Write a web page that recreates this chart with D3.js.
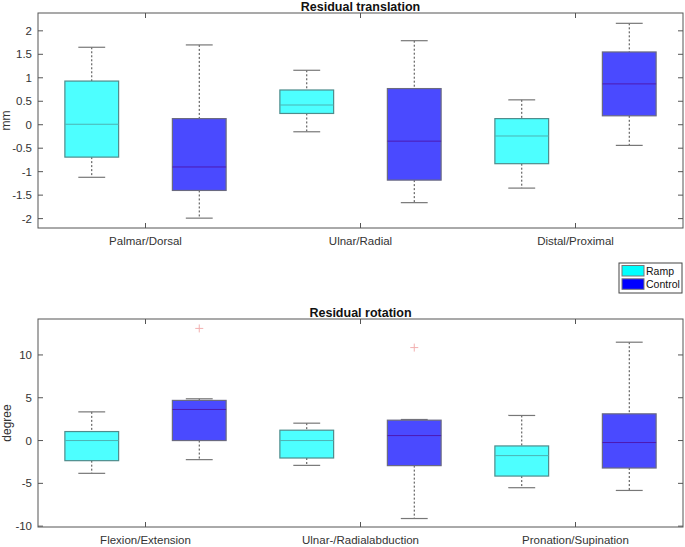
<!doctype html>
<html>
  <head>
    <style>
      body { margin: 0; background: #fff; }
      svg { font-family: "Liberation Sans", Arial, sans-serif; }
    </style>
  </head>
  <script src="https://cdn.jsdelivr.net/npm/d3@7"></script>
  <body>
    <svg id="chart" width="685" height="547"></svg>
    <script>

    // data: [lowWhisker, q1, median, q3, highWhisker]
    var transCats = ["Palmar/Dorsal", "Ulnar/Radial", "Distal/Proximal"];
    var transRamp = [[-1.12, -0.69, 0.01, 0.93, 1.65], [-0.15, 0.24, 0.42, 0.74, 1.16], [-1.35, -0.83, -0.24, 0.13, 0.53]];
    var transControl = [[-1.99, -1.40, -0.90, 0.13, 1.70], [-1.66, -1.18, -0.35, 0.77, 1.79], [-0.44, 0.19, 0.87, 1.55, 2.16]];
    var transTicks = [-2, -1.5, -1, -0.5, 0, 0.5, 1, 1.5, 2];

    var rotCats = ["Flexion/Extension", "Ulnar-/Radialabduction", "Pronation/Supination"];
    var rotRamp = [[-3.83, -2.35, 0.0, 1.05, 3.35], [-2.9, -2.04, 0.0, 1.21, 2.03], [-5.51, -4.15, -1.76, -0.63, 2.93]];
    var rotControl = [[-2.23, 0.0, 3.63, 4.69, 4.88], [-9.11, -2.93, 0.58, 2.38, 2.46], [-5.83, -3.21, -0.23, 3.12, 11.49]];
    var rotRampOut = [[], [], []];
    var rotControlOut = [[13.1], [10.86], []];
    var rotTicks = [-10, -5, 0, 5, 10];

    var seriesNames = ["Ramp", "Control"];

    var svg = d3.select("#chart");
    var axisCol = "#555";
    var textCol = "#333";

    function panel(o) {
      var x = d3.scaleLinear().domain([0.5, 3.5]).range([o.left, o.right]);
      var y = d3.scaleLinear().domain(o.ydom).range([o.bottom, o.top]);
      var g = svg.append("g");
      var tl = 5;

      // y ticks (inside, both sides)
      o.ticks.forEach(function(t){
        g.append("line").attr("x1", o.left).attr("x2", o.left + tl).attr("y1", y(t)).attr("y2", y(t)).attr("stroke", axisCol);
        g.append("line").attr("x1", o.right).attr("x2", o.right - tl).attr("y1", y(t)).attr("y2", y(t)).attr("stroke", axisCol);
        g.append("text").attr("x", o.left - 6).attr("y", y(t) + 4).attr("text-anchor", "end")
          .attr("font-size", 11.5).attr("fill", textCol).text(t);
      });
      // x ticks
      o.cats.forEach(function(c, i){
        var xx = x(i + 1);
        g.append("line").attr("x1", xx).attr("x2", xx).attr("y1", o.bottom).attr("y2", o.bottom - tl).attr("stroke", axisCol);
        g.append("line").attr("x1", xx).attr("x2", xx).attr("y1", o.top).attr("y2", o.top + tl).attr("stroke", axisCol);
        g.append("text").attr("x", xx).attr("y", o.bottom + 17).attr("text-anchor", "middle")
          .attr("font-size", 11.5).attr("fill", textCol).text(c);
      });

      var bw = 0.25;
      function drawBox(d, i, off, fill, edge, med, outs) {
        var cx = x(i + 1 + off);
        var x0 = x(i + 1 + off - bw / 2), x1 = x(i + 1 + off + bw / 2);
        var c0 = x(i + 1 + off - bw / 4), c1 = x(i + 1 + off + bw / 4);
        g.append("line").attr("x1", cx).attr("x2", cx).attr("y1", y(d[4])).attr("y2", y(d[3]))
          .attr("stroke", "#444").attr("stroke-dasharray", "2,2");
        g.append("line").attr("x1", cx).attr("x2", cx).attr("y1", y(d[1])).attr("y2", y(d[0]))
          .attr("stroke", "#444").attr("stroke-dasharray", "2,2");
        g.append("line").attr("x1", c0).attr("x2", c1).attr("y1", y(d[4])).attr("y2", y(d[4])).attr("stroke", "#777").attr("stroke-width", 1.2);
        g.append("line").attr("x1", c0).attr("x2", c1).attr("y1", y(d[0])).attr("y2", y(d[0])).attr("stroke", "#777").attr("stroke-width", 1.2);
        g.append("rect").attr("x", x0).attr("y", y(d[3])).attr("width", x1 - x0).attr("height", y(d[1]) - y(d[3]))
          .attr("fill", fill).attr("stroke", edge).attr("stroke-width", 1.2);
        g.append("line").attr("x1", x0).attr("x2", x1).attr("y1", y(d[2])).attr("y2", y(d[2])).attr("stroke", med);
        (outs || []).forEach(function(v){
          g.append("path").attr("d", "M" + (cx - 4) + "," + y(v) + "h8M" + cx + "," + (y(v) - 4) + "v8")
            .attr("stroke", "#f2b0b0").attr("fill", "none");
        });
      }
      o.ramp.forEach(function(d, i){ drawBox(d, i, -0.25, "#4dffff", "#4f8c8c", "#4db3b3", o.rampOut ? o.rampOut[i] : []); });
      o.control.forEach(function(d, i){ drawBox(d, i, 0.25, "#4a4aff", "#6a6a80", "#4d1ab3", o.controlOut ? o.controlOut[i] : []); });

      g.append("rect").attr("x", o.left).attr("y", o.top).attr("width", o.right - o.left).attr("height", o.bottom - o.top)
        .attr("fill", "none").attr("stroke", axisCol);

      g.append("text").attr("x", (o.left + o.right) / 2).attr("y", o.top - 2.5).attr("text-anchor", "middle")
        .attr("font-size", 12.5).attr("font-weight", "bold").attr("fill", "#111").text(o.title);
      g.append("text").attr("transform", "translate(" + o.ylx + "," + ((o.top + o.bottom) / 2) + ") rotate(-90)")
        .attr("text-anchor", "middle").attr("font-size", 12).attr("fill", textCol).text(o.ylabel);
    }

    panel({ left: 38, right: 683, top: 13, bottom: 228, ydom: [-2.2, 2.38], ticks: transTicks,
      cats: transCats, ramp: transRamp, control: transControl, title: "Residual translation", ylabel: "mm", ylx: 10 });
    panel({ left: 38, right: 683, top: 319, bottom: 527, ydom: [-10.1, 14.2], ticks: rotTicks,
      cats: rotCats, ramp: rotRamp, control: rotControl, rampOut: rotRampOut, controlOut: rotControlOut,
      title: "Residual rotation", ylabel: "degree", ylx: 11 });

    // legend
    var leg = svg.append("g");
    leg.append("rect").attr("x", 619).attr("y", 263).attr("width", 63).attr("height", 30)
      .attr("fill", "#fff").attr("stroke", "#444");
    var legCols = ["#00ffff", "#0000ff"];
    seriesNames.forEach(function(n, i){
      leg.append("rect").attr("x", 622).attr("y", 265.5 + i * 13.3).attr("width", 22).attr("height", 10.5)
        .attr("fill", legCols[i]).attr("stroke", "#777");
      leg.append("text").attr("x", 646).attr("y", 275 + i * 13.3).attr("font-size", 10.5).attr("fill", "#111").text(n);
    });

    </script>
  </body>
</html>
